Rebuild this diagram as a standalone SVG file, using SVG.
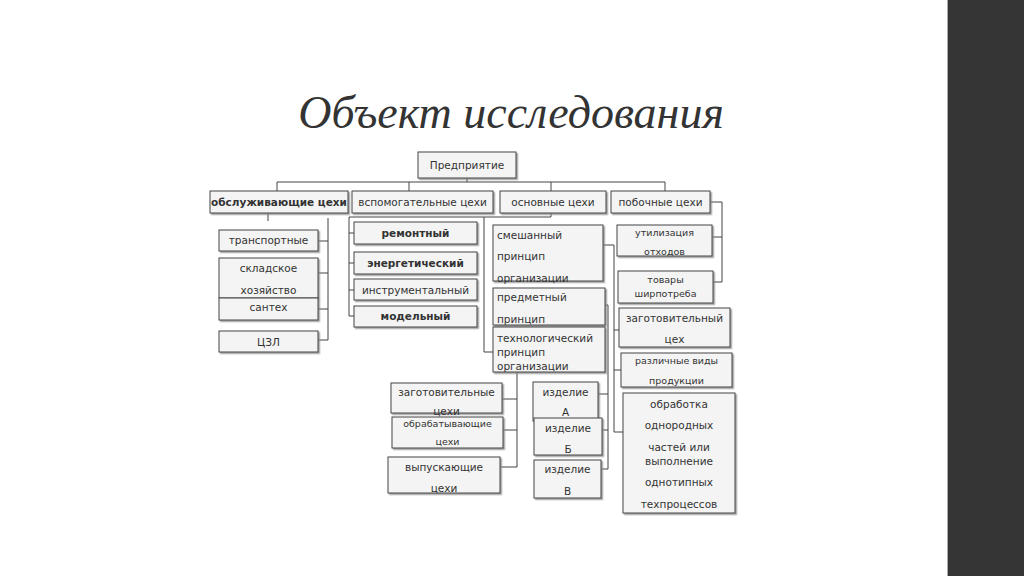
<svg xmlns="http://www.w3.org/2000/svg" width="1024" height="576" viewBox="0 0 1024 576">
<style>
.b{fill:#f4f4f4;stroke:#444;stroke-width:1}
.t{font-family:"DejaVu Sans","Liberation Sans",sans-serif;font-size:10.5px;fill:#333;text-anchor:middle}
.l{text-anchor:start}
.bd{font-weight:bold}
.s{font-size:9.5px}
.c{stroke:#444;stroke-width:1;fill:none}
</style>
<defs>
<filter id="sh" x="-10%" y="-10%" width="130%" height="140%">
<feDropShadow dx="1.5" dy="1.5" stdDeviation="0.7" flood-color="#888" flood-opacity="0.8"/>
</filter>
</defs>
<rect width="1024" height="576" fill="#fff"/>
<rect x="948" y="0" width="76" height="576" fill="#353535"/>
<line x1="947.5" y1="0" x2="947.5" y2="576" stroke="#aaa" stroke-width="1"/>
<text x="511" y="128" font-family="Liberation Serif, serif" font-style="italic" font-size="46" fill="#333" text-anchor="middle">Объект исследования</text>

<g id="connectors" class="c">
<path d="M467 178V182M277 182H665M277 182V191M409 182V191M551 182V191M665 182V191"/>
<path d="M268 213V221M328 218V340M318 241H328M318 273H328M318 309H328M318 340H328"/>
<path d="M349 217H551M551 213V217M349 217V316M349 233H354M349 263H354M349 290H354M349 316H354"/>
<path d="M484 217V352H493"/>
<path d="M603 245H614V432M614 330H619M614 370H621M614 432H623"/>
<path d="M605 305H608V469M598 394H608M602 430H608M601 469H608"/>
<path d="M517 372V467M502 399H517M503 430H517M500 467H517"/>
<path d="M710 202H722V282M712 237H722M713 282H722"/>
</g>

<g id="n-predpriyatie"><rect class="b" x="418" y="152" width="98" height="26" filter="url(#sh)"/><text class="t" x="467" y="169">Предприятие</text></g>
<g id="n-obsluzh"><rect class="b" x="210" y="191" width="138" height="22" filter="url(#sh)"/><text class="t bd" x="279" y="206" font-size="10">обслуживающие цехи</text></g>
<g id="n-vspomog"><rect class="b" x="352" y="191" width="141" height="22" filter="url(#sh)"/><text class="t" x="422.5" y="206">вспомогательные цехи</text></g>
<g id="n-osnov"><rect class="b" x="500" y="191" width="106" height="22" filter="url(#sh)"/><text class="t" x="553" y="206">основные цехи</text></g>
<g id="n-poboch"><rect class="b" x="611" y="191" width="99" height="22" filter="url(#sh)"/><text class="t" x="660.5" y="206">побочные цехи</text></g>

<g id="n-transport"><rect class="b" x="219" y="230" width="99" height="21" filter="url(#sh)"/><text class="t" x="268.5" y="244">транспортные</text></g>
<g id="n-sklad"><rect class="b" x="219" y="258" width="99" height="40" filter="url(#sh)"/><text class="t" x="268.5" y="272">складское</text><text class="t" x="268.5" y="294">хозяйство</text></g>
<g id="n-santeh"><rect class="b" x="219" y="298" width="99" height="22" filter="url(#sh)"/><text class="t" x="268.5" y="311">сантех</text></g>
<g id="n-czl"><rect class="b" x="219" y="331" width="99" height="21" filter="url(#sh)"/><text class="t" x="268.5" y="346" font-size="12">ЦЗЛ</text></g>

<g id="n-remont"><rect class="b" x="354" y="222" width="123" height="22" filter="url(#sh)"/><text class="t bd" x="415.5" y="237">ремонтный</text></g>
<g id="n-energ"><rect class="b" x="354" y="252" width="123" height="22" filter="url(#sh)"/><text class="t bd" x="415.5" y="267">энергетический</text></g>
<g id="n-instr"><rect class="b" x="354" y="279" width="123" height="21" filter="url(#sh)"/><text class="t" x="415.5" y="294">инструментальный</text></g>
<g id="n-model"><rect class="b" x="354" y="306" width="123" height="21" filter="url(#sh)"/><text class="t bd" x="415.5" y="320">модельный</text></g>

<g id="n-smesh"><rect class="b" x="493" y="225" width="110" height="56" filter="url(#sh)"/><text class="t l" x="497" y="239">смешанный</text><text class="t l" x="497" y="260">принцип</text><text class="t l" x="497" y="282">организации</text></g>
<g id="n-predmet"><rect class="b" x="493" y="288" width="112" height="37" filter="url(#sh)"/><text class="t l" x="497" y="301">предметный</text><text class="t l" x="497" y="323">принцип</text></g>
<g id="n-tehnolog"><rect class="b" x="493" y="327" width="112" height="45" filter="url(#sh)"/><text class="t l" x="497" y="342">технологический</text><text class="t l" x="497" y="356">принцип</text><text class="t l" x="497" y="370">организации</text></g>

<g id="n-zagot-cehi"><rect class="b" x="391" y="383" width="111" height="30" filter="url(#sh)"/><text class="t" x="446.5" y="396">заготовительные</text><text class="t" x="446.5" y="415">цехи</text></g>
<g id="n-obrab-cehi"><rect class="b" x="392" y="417" width="111" height="31" filter="url(#sh)"/><text class="t s" x="447.5" y="427">обрабатывающие</text><text class="t s" x="447.5" y="445">цехи</text></g>
<g id="n-vypusk-cehi"><rect class="b" x="388" y="457" width="112" height="36" filter="url(#sh)"/><text class="t" x="444" y="471">выпускающие</text><text class="t" x="444" y="492">цехи</text></g>

<g id="n-izd-a"><rect class="b" x="533" y="382" width="65" height="39" filter="url(#sh)"/><text class="t" x="565.5" y="396">изделие</text><text class="t" x="565.5" y="416">А</text></g>
<g id="n-izd-b"><rect class="b" x="534" y="418" width="68" height="37" filter="url(#sh)"/><text class="t" x="568" y="432">изделие</text><text class="t" x="568" y="453">Б</text></g>
<g id="n-izd-v"><rect class="b" x="534" y="460" width="67" height="38" filter="url(#sh)"/><text class="t" x="567.5" y="473">изделие</text><text class="t" x="567.5" y="495">В</text></g>

<g id="n-utiliz"><rect class="b" x="617" y="225" width="95" height="31" filter="url(#sh)"/><text class="t s" x="664.5" y="236">утилизация</text><text class="t s" x="664.5" y="255">отходов</text></g>
<g id="n-tovary"><rect class="b" x="618" y="271" width="95" height="32" filter="url(#sh)"/><text class="t s" x="665.5" y="283">товары</text><text class="t s" x="665.5" y="297">ширпотреба</text></g>
<g id="n-zagot-ceh"><rect class="b" x="619" y="308" width="111" height="39" filter="url(#sh)"/><text class="t" x="674.5" y="322">заготовительный</text><text class="t" x="674.5" y="343">цех</text></g>
<g id="n-razl"><rect class="b" x="621" y="353" width="111" height="34" filter="url(#sh)"/><text class="t s" x="676.5" y="364">различные виды</text><text class="t s" x="676.5" y="384">продукции</text></g>
<g id="n-obrabotka"><rect class="b" x="623" y="393" width="112" height="120" filter="url(#sh)"/><text class="t" x="679" y="408">обработка</text><text class="t" x="679" y="429">однородных</text><text class="t" x="679" y="451">частей  или</text><text class="t" x="679" y="465">выполнение</text><text class="t" x="679" y="486">однотипных</text><text class="t" x="679" y="508">техпроцессов</text></g>
</svg>
